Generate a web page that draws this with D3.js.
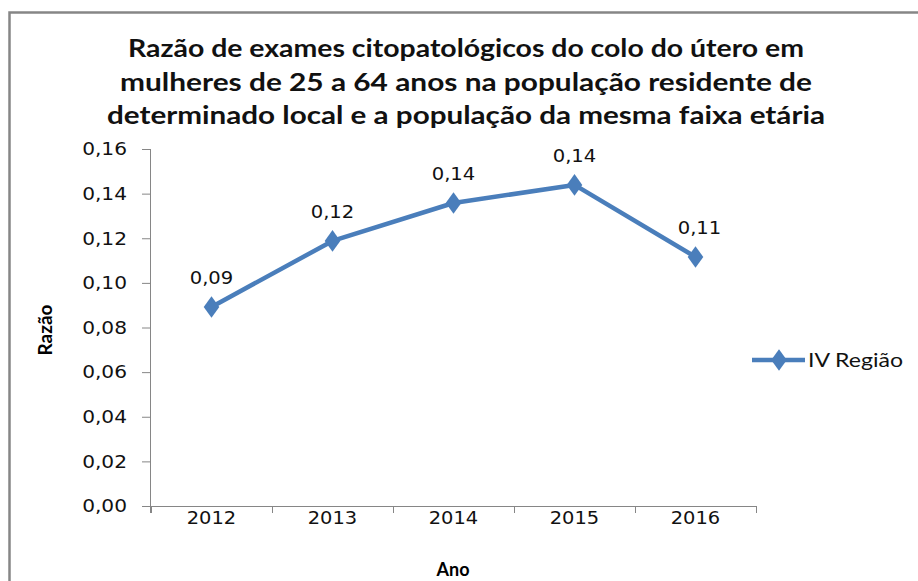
<!DOCTYPE html>
<html><head><meta charset="utf-8">
<script src="https://cdn.jsdelivr.net/npm/d3@7"></script>
<style>body{margin:0;background:#fff}svg{display:block}</style>
</head><body>
<svg id="c" width="918" height="581"></svg>
<script>
const years = ["2012","2013","2014","2015","2016"];
const values = [0.0892, 0.1188, 0.1358, 0.1439, 0.1116];
const valueLabels = ["0,09","0,12","0,14","0,14","0,11"];
const yTicks = [0,0.02,0.04,0.06,0.08,0.10,0.12,0.14,0.16];
const seriesName = "IV Região";
const titleLines = ["Razão de exames citopatológicos do colo do útero em",
  "mulheres de 25 a 64 anos na população residente de",
  "determinado local e a população da mesma faixa etária"];
const titleWidths = [676, 692, 718];

const svg = d3.select("#c");
const blue = "#4a7ebb", gray = "#868686";
const fmt = d => d.toFixed(2).replace(".", ",");

function stretch(sel, k){ sel.each(function(){ const w=this.getComputedTextLength(); d3.select(this).attr("textLength", w*k).attr("lengthAdjust","spacingAndGlyphs"); }); }

// outer border
svg.append("path").attr("d","M9.5,581 L9.5,12.5 L918,12.5").attr("fill","none").attr("stroke",gray).attr("stroke-width",2.5);

// title
const tt = svg.append("g").attr("font-family","Lato, 'Open Sans', sans-serif").attr("font-weight","bold").attr("font-size",24).attr("fill","#111").attr("text-anchor","middle");
titleLines.forEach((t,i)=>{
  tt.append("text").attr("x",466).attr("y",57+i*33.5).text(t).attr("textLength",titleWidths[i]).attr("lengthAdjust","spacingAndGlyphs");
});

const x = d3.scaleBand().domain(years).range([151,756]);
const y = d3.scaleLinear().domain([0,0.16]).range([506,149]);

// y axis
const ya = svg.append("g").attr("transform","translate(151,0)")
  .call(d3.axisLeft(y).tickValues(yTicks).tickFormat(fmt).tickSize(9).tickPadding(6));
ya.select(".domain").attr("stroke",gray).attr("d","M-0.5,149.5V513");
ya.selectAll(".tick line").attr("stroke",gray);
ya.selectAll("text").attr("font-family","'DejaVu Sans', Verdana, sans-serif").attr("font-size",18).attr("fill","#111").attr("dx",-9);
stretch(ya.selectAll("text"),1.12);

// x axis
const xa = svg.append("g").attr("transform","translate(0,506)");
xa.append("line").attr("x1",151).attr("x2",756.5).attr("y1",0.5).attr("y2",0.5).attr("stroke",gray);
const bounds = years.map(d=>x(d)).concat([x(years[years.length-1])+x.bandwidth()]);
xa.selectAll("line.t").data(bounds).join("line").attr("class","t")
  .attr("x1",d=>Math.round(d)+0.5).attr("x2",d=>Math.round(d)+0.5).attr("y1",0).attr("y2",7).attr("stroke",gray);
const xl = xa.selectAll("text").data(years).join("text")
  .attr("x",d=>x(d)+x.bandwidth()/2).attr("y",18).attr("text-anchor","middle")
  .attr("font-family","'DejaVu Sans', Verdana, sans-serif").attr("font-size",18).attr("fill","#111").text(d=>d);
stretch(xl,1.08);

// axis titles
svg.append("text").attr("x",453).attr("y",576).attr("text-anchor","middle")
  .attr("font-family","Lato, sans-serif").attr("font-weight","bold").attr("font-size",18).text("Ano");
svg.append("text").attr("transform","translate(52,330) rotate(-90)").attr("text-anchor","middle")
  .attr("font-family","Lato, sans-serif").attr("font-weight","bold").attr("font-size",19).text("Razão");

// line
const data = years.map((d,i)=>({year:d,v:values[i],lab:valueLabels[i]}));
const cx = d=>x(d.year)+x.bandwidth()/2;
svg.append("path").datum(data).attr("fill","none").attr("stroke",blue).attr("stroke-width",4.5).attr("stroke-linejoin","round")
  .attr("d",d3.line().x(cx).y(d=>y(d.v)));
const diamond = d3.symbol().type(d3.symbolDiamond).size(135);
svg.selectAll("path.m").data(data).join("path").attr("class","m").attr("fill",blue)
  .attr("transform",d=>`translate(${cx(d)},${y(d.v)}) scale(1.25,1)`).attr("d",diamond);

// data labels
const dl = svg.selectAll("text.dl").data(data).join("text").attr("class","dl")
  .attr("x",(d,i)=>cx(d)+(i===4?4:0)).attr("y",d=>y(d.v)-23).attr("text-anchor","middle")
  .attr("font-family","'DejaVu Sans', Verdana, sans-serif").attr("font-size",17).attr("fill","#111").text(d=>d.lab);
stretch(dl,1.15);

// legend
const lg = svg.append("g").attr("transform","translate(752,360)");
lg.append("line").attr("x1",0).attr("x2",53).attr("stroke",blue).attr("stroke-width",4.5);
lg.append("path").attr("transform","translate(27,0) scale(1.25,1)").attr("d",diamond).attr("fill",blue);
const lt = lg.append("text").attr("x",56).attr("y",7).attr("font-family","Lato, sans-serif").attr("font-size",20).attr("fill","#111").text(seriesName);
lt.attr("textLength",95).attr("lengthAdjust","spacingAndGlyphs");
</script>
</body></html>
